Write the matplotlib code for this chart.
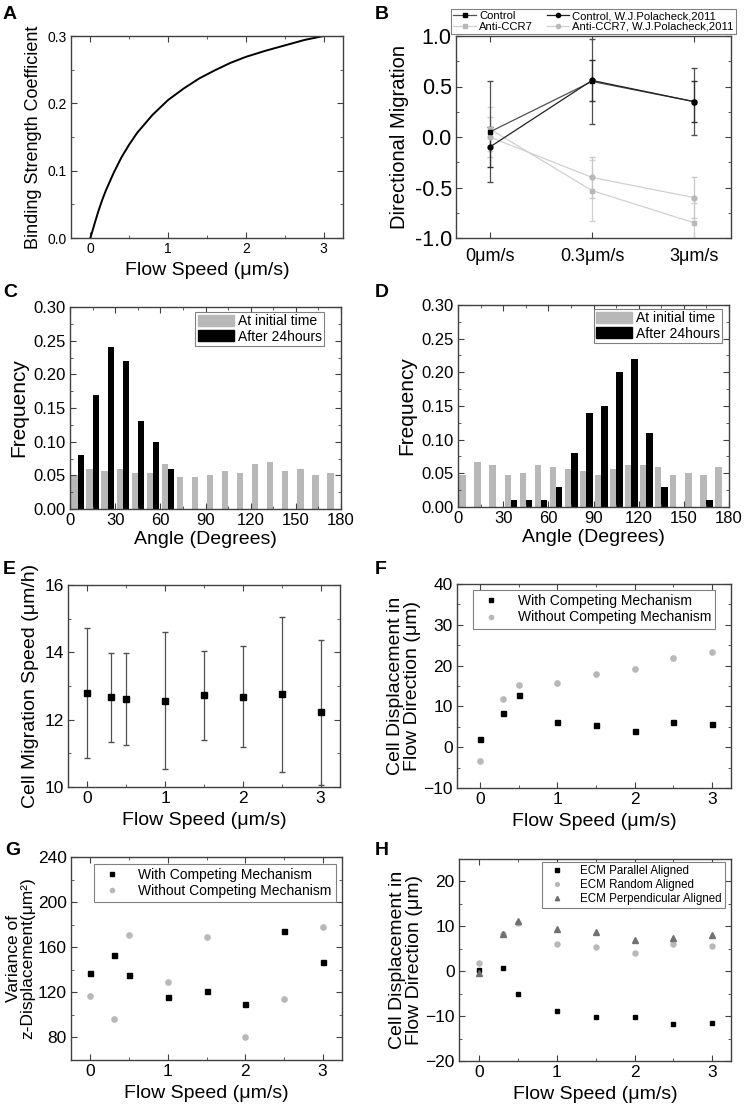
import matplotlib
matplotlib.use("Agg")
import matplotlib.pyplot as plt
from matplotlib.ticker import MultipleLocator
from matplotlib.patches import Patch
from matplotlib.lines import Line2D
import numpy as np

plt.rcParams['font.family'] = ['Liberation Sans', 'DejaVu Sans']

# ---- data ----
# A: binding strength coefficient vs flow speed
a_speed = [0, 0.05, 0.1, 0.15, 0.2, 0.3, 0.4, 0.5, 0.6, 0.8, 1.0, 1.2, 1.4,
           1.6, 1.8, 2.0, 2.25, 2.5, 2.75, 3.0]
a_coef = [0, 0.020, 0.039, 0.056, 0.071, 0.097, 0.120, 0.139, 0.156, 0.183,
          0.205, 0.222, 0.237, 0.249, 0.260, 0.269, 0.278, 0.286, 0.294, 0.300]

# B: directional migration
b_cats = ['0μm/s', '0.3μm/s', '3μm/s']
b_control = [0.05, 0.55, 0.35]
b_control_err = [0.50, 0.42, 0.33]
b_control_pol = [-0.10, 0.56, 0.35]
b_control_pol_err = [0.20, 0.20, 0.20]
b_anti = [0.08, -0.53, -0.85]
b_anti_err = [0.22, 0.30, 0.20]
b_anti_pol = [0.0, -0.40, -0.60]
b_anti_pol_err = [0.20, 0.20, 0.20]

# C, D: angle histograms (10 degree bins)
bin_left = np.arange(0, 180, 10)
c_initial = [0.050, 0.060, 0.057, 0.060, 0.053, 0.053, 0.067, 0.047, 0.047,
             0.050, 0.057, 0.053, 0.067, 0.070, 0.057, 0.060, 0.050, 0.053]
c_after = [0.08, 0.17, 0.24, 0.22, 0.13, 0.10, 0.06, 0, 0,
           0, 0, 0, 0, 0, 0, 0, 0, 0]
d_initial = [0.047, 0.067, 0.063, 0.047, 0.050, 0.063, 0.060, 0.057, 0.053,
             0.047, 0.057, 0.063, 0.063, 0.060, 0.047, 0.050, 0.047, 0.060]
d_after = [0, 0, 0, 0.01, 0.01, 0.01, 0.03, 0.08, 0.14,
           0.15, 0.20, 0.22, 0.11, 0.03, 0, 0, 0.01, 0]

# E-H: flow speed series
speeds = [0, 0.3, 0.5, 1, 1.5, 2, 2.5, 3]
e_speed = [12.78, 12.66, 12.61, 12.56, 12.72, 12.68, 12.76, 12.22]
e_err = [1.93, 1.33, 1.37, 2.03, 1.32, 1.50, 2.30, 2.15]
f_with = [2.0, 8.3, 12.8, 6.1, 5.5, 4.0, 6.1, 5.7]
f_without = [-3.3, 11.9, 15.2, 15.7, 18.0, 19.1, 21.9, 23.3]
g_with = [136.7, 153.3, 135.2, 116.0, 121.6, 109.4, 174.4, 146.5]
g_without = [116.5, 96.3, 170.5, 129.0, 169.4, 80.3, 114.4, 177.7]
h_parallel = [0.2, 0.7, -5.0, -8.8, -10.2, -10.3, -11.85, -11.55]
h_random = [1.8, 8.3, 10.8, 6.0, 5.5, 4.0, 6.0, 5.6]
h_perpendicular = [-0.3, 8.4, 11.1, 9.3, 8.7, 7.0, 7.3, 8.1]

W, H = 744, 1107
fig = plt.figure(figsize=(W / 100, H / 100), dpi=100)

def make_ax(l, t, r, b, labelsize=12.5):
    ax = fig.add_axes([l / W, 1 - b / H, (r - l) / W, (b - t) / H])
    for s in ax.spines.values():
        s.set_color('#404040')
        s.set_linewidth(1.0)
    ax.tick_params(which='both', direction='in', top=True, right=True,
                   color='#404040', labelsize=labelsize, pad=3)
    ax.tick_params(which='major', length=4)
    ax.tick_params(which='minor', length=2)
    return ax

def panel_label(x, y, s):
    fig.text(x / W, 1 - y / H, s, fontsize=14, fontweight='bold', va='top', ha='left')

def box_legend(ax, handles, labels, anchor, fs, **kw):
    leg = ax.legend(handles, labels, loc='upper right', bbox_to_anchor=anchor,
                    borderaxespad=0, fancybox=False, framealpha=1,
                    edgecolor='#808080', fontsize=fs, **kw)
    leg.get_frame().set_linewidth(0.8)
    return leg

flow_label = 'Flow Speed (μm/s)'
gray = '#b8b8b8'
lab = 14

# ---- A ----
ax = make_ax(71, 36, 343, 238, labelsize=10)
ax.plot(a_speed, a_coef, color='black', lw=1.4)
ax.set_xlim(-0.25, 3.25)
ax.set_ylim(0, 0.3)
ax.xaxis.set_major_locator(MultipleLocator(1))
ax.xaxis.set_minor_locator(MultipleLocator(0.5))
ax.set_yticks([0, 0.1, 0.2, 0.3])
ax.set_yticklabels(['0.0', '0.1', '0.2', '0.3'])
ax.yaxis.set_minor_locator(MultipleLocator(0.05))
ax.set_xlabel(flow_label, fontsize=lab)
ax.set_ylabel('Binding Strength Coefficient', fontsize=13)
panel_label(3, 6, 'A')

# ---- B ----
ax = make_ax(456, 36, 731, 238)
xb = np.arange(len(b_cats))
ax.errorbar(xb, b_anti, yerr=b_anti_err, color='#d0d0d0', ecolor='#d0d0d0',
            marker='s', mfc=gray, mec=gray, ms=3.5, lw=0.9, capsize=2)
ax.errorbar(xb, b_anti_pol, yerr=b_anti_pol_err, color='#d0d0d0', ecolor='#c8c8c8',
            marker='o', mfc=gray, mec=gray, ms=3.5, lw=0.9, capsize=2)
ax.errorbar(xb, b_control, yerr=b_control_err, color='#505050', ecolor='#505050',
            marker='s', mfc='black', mec='black', ms=3.5, lw=0.9, capsize=2)
ax.errorbar(xb, b_control_pol, yerr=b_control_pol_err, color='#202020', ecolor='#303030',
            marker='o', mfc='black', mec='black', ms=3.5, lw=0.9, capsize=2)
ax.set_xlim(-0.33, 2.36)
ax.set_ylim(-1.0, 1.0)
ax.set_xticks(xb)
ax.set_xticklabels(b_cats, fontsize=13)
ax.tick_params(axis='x', pad=7)
ax.set_yticks([-1.0, -0.5, 0.0, 0.5, 1.0])
ax.set_yticklabels(['-1.0', '-0.5', '0.0', '0.5', '1.0'], fontsize=15.5)
ax.yaxis.set_minor_locator(MultipleLocator(0.25))
ax.set_ylabel('Directional Migration', fontsize=14.5)
hb = [Line2D([], [], color='#505050', marker='s', mfc='black', mec='black', ms=3, lw=0.9),
      Line2D([], [], color='#d0d0d0', marker='s', mfc=gray, mec=gray, ms=3, lw=0.9),
      Line2D([], [], color='#202020', marker='o', mfc='black', mec='black', ms=3, lw=0.9),
      Line2D([], [], color='#d0d0d0', marker='o', mfc=gray, mec=gray, ms=3, lw=0.9)]
lb = ['Control', 'Anti-CCR7', 'Control, W.J.Polacheck,2011', 'Anti-CCR7, W.J.Polacheck,2011']
leg = ax.legend(hb, lb, ncol=2, loc='lower center', bbox_to_anchor=(0.5, 1.01),
                fontsize=8.1, fancybox=False, framealpha=1, edgecolor='#808080',
                borderaxespad=0, handlelength=2.0, columnspacing=1.2,
                handletextpad=0.3, borderpad=0.2, labelspacing=0.05)
leg.get_frame().set_linewidth(0.8)
panel_label(375, 6, 'B')

# ---- C, D ----
def hist_panel(box, initial, after, anchor, label, lpos):
    ax = make_ax(*box, labelsize=12)
    ax.bar(bin_left + 3.0, initial, width=4.2, color=gray, linewidth=0)
    ax.bar(bin_left + 7.2, after, width=4.4, color='black', linewidth=0)
    ax.set_xlim(0, 180)
    ax.set_ylim(0, 0.30)
    ax.xaxis.set_major_locator(MultipleLocator(30))
    ax.xaxis.set_minor_locator(MultipleLocator(15))
    ax.set_yticks(np.arange(0, 0.31, 0.05))
    ax.set_yticklabels([f'{v:.2f}' for v in np.arange(0, 0.31, 0.05)])
    ax.yaxis.set_minor_locator(MultipleLocator(0.025))
    ax.set_xlabel('Angle (Degrees)', fontsize=lab, labelpad=2)
    ax.set_ylabel('Frequency', fontsize=15)
    box_legend(ax, [Patch(color=gray), Patch(color='black')],
               ['At initial time', 'After 24hours'], anchor, 10,
               handlelength=2.6, handleheight=0.9, handletextpad=0.3,
               borderpad=0.15, labelspacing=0.1)
    panel_label(lpos[0], lpos[1], label)

hist_panel((70, 307, 341, 509), c_initial, c_after, (0.937, 0.975), 'C', (3, 284))
hist_panel((458, 305, 729, 507), d_initial, d_after, (0.974, 0.98), 'D', (375, 284))

# ---- E ----
ax = make_ax(68, 585, 340, 787)
ax.errorbar(speeds, e_speed, yerr=e_err, fmt='s', color='black', ms=3.8,
            ecolor='#505050', elinewidth=0.9, capsize=2)
ax.set_xlim(-0.25, 3.25)
ax.set_ylim(10, 16)
ax.xaxis.set_major_locator(MultipleLocator(1))
ax.xaxis.set_minor_locator(MultipleLocator(0.5))
ax.yaxis.set_major_locator(MultipleLocator(2))
ax.yaxis.set_minor_locator(MultipleLocator(1))
ax.set_xlabel(flow_label, fontsize=lab)
ax.set_ylabel('Cell Migration Speed (μm/h)', fontsize=lab)
panel_label(3, 561, 'E')

# ---- F ----
ax = make_ax(457, 584, 731, 788)
ax.plot(speeds, f_with, 's', color='black', ms=3.6, label='With Competing Mechanism')
ax.plot(speeds, f_without, 'o', color=gray, ms=3.8, label='Without Competing Mechanism')
ax.set_xlim(-0.3, 3.25)
ax.set_ylim(-10, 40)
ax.xaxis.set_major_locator(MultipleLocator(1))
ax.xaxis.set_minor_locator(MultipleLocator(0.5))
ax.yaxis.set_major_locator(MultipleLocator(10))
ax.yaxis.set_minor_locator(MultipleLocator(5))
ax.set_xlabel(flow_label, fontsize=lab)
ax.set_ylabel('Cell Displacement in\nFlow Direction (μm)', fontsize=lab, labelpad=2,
              linespacing=0.95)
h, l = ax.get_legend_handles_labels()
box_legend(ax, h, l, (0.942, 0.97), 10, handletextpad=0.9, borderpad=0.3,
           labelspacing=0.15, markerscale=0.8)
panel_label(375, 561, 'F')

# ---- G ----
ax = make_ax(71, 857, 342, 1060)
ax.plot(speeds, g_with, 's', color='black', ms=3.6, label='With Competing Mechanism')
ax.plot(speeds, g_without, 'o', color=gray, ms=3.8, label='Without Competing Mechanism')
ax.set_xlim(-0.25, 3.25)
ax.set_ylim(60, 240)
ax.xaxis.set_major_locator(MultipleLocator(1))
ax.xaxis.set_minor_locator(MultipleLocator(0.5))
ax.set_yticks([80, 120, 160, 200, 240])
ax.yaxis.set_minor_locator(MultipleLocator(20))
ax.set_xlabel(flow_label, fontsize=lab)
ax.set_ylabel('Variance of\nz-Displacement(μm²)', fontsize=12.5, labelpad=2, linespacing=0.9)
h, l = ax.get_legend_handles_labels()
box_legend(ax, h, l, (0.978, 0.966), 10, handletextpad=0.9, borderpad=0.3,
           labelspacing=0.15, markerscale=0.8)
panel_label(5, 842, 'G')

# ---- H ----
ax = make_ax(459, 859, 731, 1061)
ax.plot(speeds, h_parallel, 's', color='black', ms=3.5, label='ECM Parallel Aligned')
ax.plot(speeds, h_random, 'o', color=gray, ms=3.6, label='ECM Random Aligned')
ax.plot(speeds, h_perpendicular, '^', color='#707070', ms=4.2, label='ECM Perpendicular Aligned')
ax.set_xlim(-0.26, 3.24)
ax.set_ylim(-20, 25)
ax.xaxis.set_major_locator(MultipleLocator(1))
ax.xaxis.set_minor_locator(MultipleLocator(0.5))
ax.set_yticks([-20, -10, 0, 10, 20])
ax.yaxis.set_minor_locator(MultipleLocator(5))
ax.set_xlabel(flow_label, fontsize=lab)
ax.set_ylabel('Cell Displacement in\nFlow Direction (μm)', fontsize=lab, labelpad=2,
              linespacing=0.95)
h, l = ax.get_legend_handles_labels()
box_legend(ax, h, l, (0.978, 0.985), 8.3, handletextpad=1.0, borderpad=0.3,
           labelspacing=0.15, markerscale=0.75)
panel_label(375, 842, 'H')

fig.savefig('out.png', dpi=100)
